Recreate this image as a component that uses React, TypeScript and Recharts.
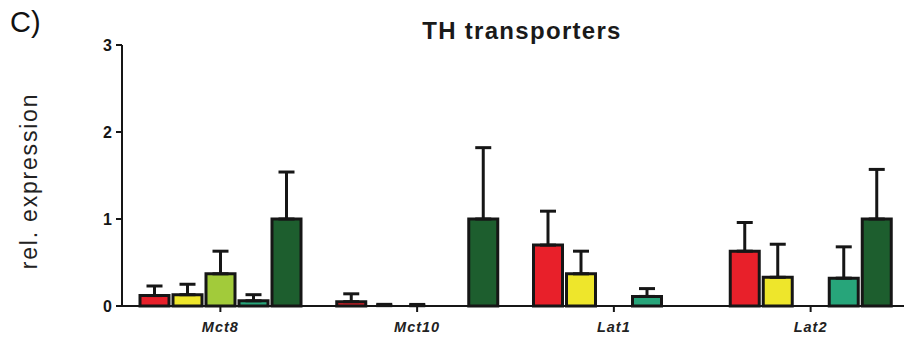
import { Bar, BarChart, ErrorBar, Rectangle, XAxis, YAxis } from "recharts";

const genes = ["Mct8", "Mct10", "Lat1", "Lat2"];

// mean and upper SD per gene; null where the group has no bar
const redMean = [0.12, 0.05, 0.7, 0.63];
const redErr = [0.11, 0.09, 0.39, 0.33];
const yellowMean = [0.13, 0.004, 0.37, 0.33];
const yellowErr = [0.12, 0.015, 0.26, 0.38];
const limeMean = [0.37, 0.003, null, null];
const limeErr = [0.26, 0.015, null, null];
const tealMean = [0.06, null, 0.11, 0.32];
const tealErr = [0.07, null, 0.09, 0.36];
const forestMean = [1.0, 1.0, null, 1.0];
const forestErr = [0.54, 0.82, null, 0.57];

const yTicks = [0, 1, 2, 3];

const series = [
  { key: "red", color: "#E8202A", mean: redMean, err: redErr },
  { key: "yellow", color: "#EEE62B", mean: yellowMean, err: yellowErr },
  { key: "lime", color: "#A2CB3A", mean: limeMean, err: limeErr },
  { key: "teal", color: "#27A57A", mean: tealMean, err: tealErr },
  { key: "forest", color: "#1D5E2E", mean: forestMean, err: forestErr },
];

const rows = genes.map((gene, i) => {
  const row: Record<string, unknown> = { gene };
  series.forEach((s) => {
    row[s.key] = s.mean[i];
    row[`${s.key}Err`] = s.err[i] == null ? null : [0, s.err[i]];
  });
  return row;
});

const ink = "#161616";
const font = "'Liberation Sans', Arial, Helvetica, sans-serif";

// bars under a pixel tall would only show as a thick outline, so skip them
function BarShape(props: any) {
  if (!props.height || Math.abs(props.height) < 1) return <g />;
  return <Rectangle {...props} />;
}

function YLabel() {
  return (
    <text
      x={37}
      y={181}
      transform="rotate(-90 37 181)"
      textAnchor="middle"
      fontFamily={font}
      fontSize={23}
      letterSpacing={1.8}
      fill="#222"
    >
      rel. expression
    </text>
  );
}

export default function App() {
  return (
    <div
      style={{
        position: "absolute",
        top: 0,
        left: 0,
        width: 904,
        height: 338,
        overflow: "hidden",
        background: "#fff",
        fontFamily: font,
      }}
    >
      <div
        style={{
          position: "absolute",
          left: 10,
          top: 6,
          fontSize: 29,
          color: "#111",
          lineHeight: "32px",
        }}
      >
        C)
      </div>
      <div
        style={{
          position: "absolute",
          left: 322,
          width: 400,
          top: 17,
          textAlign: "center",
          fontSize: 24,
          fontWeight: 700,
          letterSpacing: 1.3,
          color: "#1a1a1a",
          lineHeight: "28px",
        }}
      >
        TH transporters
      </div>
      <BarChart
        width={912}
        height={338}
        data={rows}
        margin={{ top: 45, right: 3, bottom: 0, left: 0 }}
        barSize={29}
        barGap={4}
        barCategoryGap={18}
      >
        <XAxis
          dataKey="gene"
          height={32}
          tickSize={6}
          tickMargin={10}
          axisLine={{ stroke: ink, strokeWidth: 2 }}
          tickLine={{ stroke: ink, strokeWidth: 2 }}
          tick={{
            fill: "#222",
            fontSize: 14.5,
            fontWeight: 700,
            fontStyle: "italic",
            letterSpacing: 1,
            fontFamily: font,
          }}
        />
        <YAxis
          domain={[0, 3]}
          ticks={yTicks}
          width={122}
          tickSize={6}
          tickMargin={4}
          axisLine={{ stroke: ink, strokeWidth: 2 }}
          tickLine={{ stroke: ink, strokeWidth: 2 }}
          tick={{ fill: ink, fontSize: 16, fontWeight: 700, fontFamily: font }}
          label={{ content: () => <YLabel /> }}
        />
        {series.map((s) => (
          <Bar
            key={s.key}
            dataKey={s.key}
            fill={s.color}
            stroke={ink}
            strokeWidth={3}
            shape={BarShape}
            isAnimationActive={false}
          >
            <ErrorBar
              dataKey={`${s.key}Err`}
              direction="y"
              width={8}
              strokeWidth={3}
              stroke={ink}
            />
          </Bar>
        ))}
      </BarChart>
    </div>
  );
}
